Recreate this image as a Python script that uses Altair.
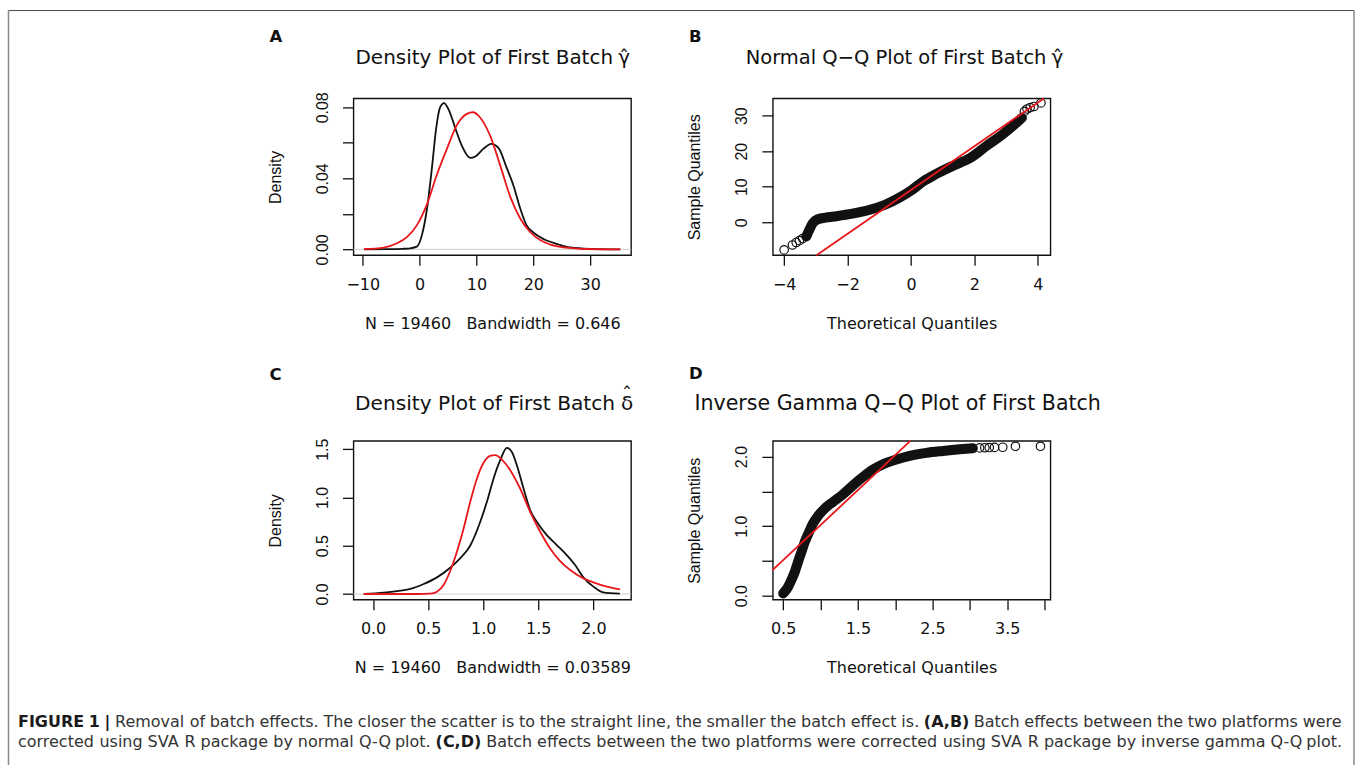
import altair as alt
import pandas as pd

# ---------------- values ----------------
# Panel A: density of first-batch gamma-hat (black) and fitted normal (red)
a_kde_x = [-9.8, -6.0, -3.0, -1.6, -0.5, 0.4, 1.3, 2.2, 2.9, 3.6, 4.3, 5.1, 6.3, 7.4, 8.9,
           9.8, 11.2, 12.6, 13.9, 15.3, 16.5, 17.7, 18.8, 20.0, 21.8, 24.1, 26.5, 30.0, 35.3]
a_kde_y = [0.0, 0.0001, 0.0003, 0.0006, 0.0015, 0.008, 0.023, 0.047, 0.068, 0.080, 0.0824,
           0.0787, 0.068, 0.0585, 0.0515, 0.0523, 0.0566, 0.0594, 0.057, 0.046, 0.036, 0.023,
           0.0136, 0.0095, 0.0058, 0.0031, 0.0011, 0.0003, 0.0]
a_norm_x = [-9.8, -6.3, -4.0, -2.2, -0.5, 1.3, 3.0, 4.8, 6.5, 8.3, 9.4, 10.6, 12.4, 14.2,
            15.9, 17.7, 19.4, 21.2, 22.9, 25.8, 28.8, 35.3]
a_norm_y = [0.0001, 0.001, 0.0034, 0.007, 0.0135, 0.0255, 0.0417, 0.0566, 0.0697, 0.0763,
            0.0772, 0.0744, 0.064, 0.047, 0.030, 0.0174, 0.0099, 0.0052, 0.0028, 0.0009,
            0.0002, 0.0]

# Panel B: normal Q-Q plot (dense band + sparse tail points + reference line)
b_band_x = [-3.30, -3.20, -3.10, -2.95, -2.70, -2.35, -1.85, -1.30, -0.80, -0.35, 0.0,
            0.40, 0.80, 1.30, 1.85, 2.40, 2.90, 3.30, 3.50]
b_band_y = [-4.0, -2.0, -0.3, 0.8, 1.3, 1.7, 2.4, 3.5, 5.0, 7.0, 8.9, 11.6, 13.6, 15.8,
            18.0, 21.6, 24.8, 27.8, 29.4]
b_tail_x = [-4.0, -3.74, -3.62, -3.52, -3.42, 3.58, 3.66, 3.76, 3.88, 4.10]
b_tail_y = [-7.8, -6.4, -5.7, -5.2, -4.6, 31.2, 31.9, 32.3, 32.6, 33.6]
b_line_x = [-2.98, 4.19]
b_line_y = [-9.28, 34.87]

# Panel C: density of first-batch delta-hat (black) and inverse gamma (red)
c_kde_x = [-0.085, 0.097, 0.248, 0.338, 0.459, 0.58, 0.70, 0.79, 0.88, 0.973, 1.033,
           1.094, 1.154, 1.215, 1.26, 1.305, 1.366, 1.426, 1.486, 1.577, 1.668, 1.758,
           1.834, 1.909, 2.0, 2.09, 2.24]
c_kde_y = [0.0, 0.014, 0.034, 0.052, 0.103, 0.172, 0.272, 0.369, 0.497, 0.748, 0.955,
           1.197, 1.386, 1.514, 1.472, 1.334, 1.093, 0.869, 0.748, 0.61, 0.507, 0.403,
           0.30, 0.172, 0.076, 0.017, 0.003]
c_ig_x = [-0.085, 0.399, 0.52, 0.58, 0.64, 0.70, 0.761, 0.822, 0.882, 0.943, 1.003,
          1.063, 1.109, 1.169, 1.245, 1.335, 1.426, 1.517, 1.607, 1.698, 1.789, 1.909,
          2.0, 2.121, 2.242]
c_ig_y = [0.0, 0.0, 0.003, 0.024, 0.093, 0.238, 0.438, 0.679, 0.955, 1.197, 1.359,
          1.431, 1.438, 1.393, 1.283, 1.093, 0.852, 0.645, 0.472, 0.341, 0.248, 0.162,
          0.121, 0.076, 0.048]

# Panel D: inverse gamma Q-Q plot
d_band_x = [0.50, 0.52, 0.567, 0.61, 0.656, 0.70, 0.745, 0.79, 0.848, 0.90, 0.968, 1.057,
            1.169, 1.302, 1.436, 1.57, 1.704, 1.837, 2.016, 2.194, 2.417, 2.64, 2.863, 3.04]
d_band_y = [0.033, 0.057, 0.13, 0.225, 0.344, 0.49, 0.63, 0.775, 0.92, 1.04, 1.148, 1.254,
            1.349, 1.459, 1.589, 1.708, 1.813, 1.89, 1.957, 2.01, 2.053, 2.081, 2.105, 2.12]
d_tail_x = [3.13, 3.20, 3.26, 3.33, 3.44, 3.61, 3.945]
d_tail_y = [2.124, 2.127, 2.13, 2.132, 2.134, 2.148, 2.148]
d_line_x = [0.357, 2.203]
d_line_y = [0.368, 2.225]

# Axis ticks / labels
a_xticks, a_xshown = [-10, 0, 10, 20, 30], [-10, 0, 10, 20, 30]
a_yticks, a_yshown = [0.0, 0.02, 0.04, 0.06, 0.08], [0.0, 0.04, 0.08]
b_xticks, b_xshown = [-4, -2, 0, 2, 4], [-4, -2, 0, 2, 4]
b_yticks, b_yshown = [0, 10, 20, 30], [0, 10, 20, 30]
c_xticks, c_xshown = [0.0, 0.5, 1.0, 1.5, 2.0], [0.0, 0.5, 1.0, 1.5, 2.0]
c_yticks, c_yshown = [0.0, 0.5, 1.0, 1.5], [0.0, 0.5, 1.0, 1.5]
d_xticks, d_xshown = [0.5, 1.0, 1.5, 2.0, 2.5, 3.0, 3.5, 4.0], [0.5, 1.5, 2.5, 3.5]
d_yticks, d_yshown = [0.0, 0.5, 1.0, 1.5, 2.0], [0.0, 1.0, 2.0]

titles = ["Density Plot of First Batch", "Normal Q\u2212Q Plot of First Batch",
          "Density Plot of First Batch", "Inverse Gamma Q\u2212Q Plot of First Batch"]
title_symbols = ["\u03b3", "\u03b3", "\u03b4", ""]
letters = ["A", "B", "C", "D"]
NB3 = "\u00a0\u00a0\u00a0"
x_titles = ["N = 19460" + NB3 + "Bandwidth = 0.646", "Theoretical Quantiles",
            "N = 19460" + NB3 + "Bandwidth = 0.03589", "Theoretical Quantiles"]
y_titles = ["Density", "Sample Quantiles", "Density", "Sample Quantiles"]

caption_l1 = [("FIGURE 1 |", True),
              ("Removal of batch effects. The closer the scatter is to the straight line, the smaller the batch effect is.", False),
              ("(A,B)", True),
              ("Batch effects between the two platforms were", False)]
caption_l2 = [("corrected using SVA R package by normal Q-Q plot.", False),
              ("(C,D)", True),
              ("Batch effects between the two platforms were corrected using SVA R package by inverse gamma Q-Q plot.", False)]

# ---------------- styling ----------------
BLACK = "#111111"
RED = "#e8161b"
FONT_H = "DejaVu Sans"       # horizontal text (the figure is stretched horizontally)
FONT_V = "Liberation Sans"   # rotated text
W = 278
H_TOP, H_BOT = 157, 159
CAP_SIZE = 16

# approximate DejaVu Sans advance widths (em) used to justify the caption words
DV = dict(zip(" .,-()|ABCDEFGHIJKLMNOPQRSTUVWXYZabcdefghijklmnopqrstuvwxyz0123456789",
              [.318, .318, .318, .361, .390, .390, .337,
               .684, .686, .698, .770, .632, .575, .775, .752, .295, .295, .656, .557, .863,
               .748, .787, .603, .787, .695, .635, .611, .732, .684, .989, .685, .611, .685,
               .613, .635, .550, .635, .615, .352, .635, .634, .278, .278, .579, .278, .974,
               .634, .612, .635, .635, .411, .521, .392, .634, .592, .818, .592, .592, .525]
              + [.636] * 10))
DVB = dict(zip(" .,()|ABCDEFGIRU0123456789",
               [.348, .380, .380, .457, .457, .366,
                .774, .762, .734, .830, .683, .683, .821, .372, .770, .812] + [.696] * 10))


def text_w(s, bold, size):
    tbl = DVB if bold else DV
    return sum(tbl.get(ch, 0.6) for ch in s) * size


def justify(segments, x0, x1, y):
    words = []
    for txt, bold in segments:
        for wd in txt.split(" "):
            words.append((wd, bold))
    widths = [text_w(wd, b, CAP_SIZE) for wd, b in words]
    gap = (x1 - x0 - sum(widths)) / (len(words) - 1)
    rows, x = [], x0
    for (wd, b), wdt in zip(words, widths):
        rows.append({"t": wd, "bold": b, "px": x, "py": y})
        x += wdt + gap
    return rows


def df(x, y):
    return pd.DataFrame({"x": x, "y": y})


def shown_expr(shown):
    arr = "[" + ",".join(repr(float(v)) for v in shown) + "]"
    return f"indexof({arr}, datum.value) >= 0 ? datum.label : ''"


def text_layer(txt, x, y, font=FONT_H, size=16, weight="normal", align="left", color=BLACK):
    return alt.Chart(pd.DataFrame({"t": [txt]})).mark_text(
        font=font, fontSize=size, fontWeight=weight, align=align, baseline="alphabetic",
        color=color
    ).encode(text="t:N", x=alt.value(x), y=alt.value(y))


def panel(i, h, xdom, ydom, xticks, xshown, xfmt, yticks, yshown, yfmt,
          lines=(), bands=(), tails=(), zero=False, title_y=-33, letter_y=-55,
          title_size=20, title_x=None, sym_x=None, hat_dy=0, extras=()):
    x_enc = alt.X("x:Q", scale=alt.Scale(domain=xdom, nice=False, zero=False),
                  axis=alt.Axis(values=xticks, format=xfmt, labelExpr=shown_expr(xshown),
                                tickSize=10, tickWidth=1.3, tickColor=BLACK, domain=False,
                                grid=False, labelFont=FONT_H, labelFontSize=16,
                                labelColor=BLACK, labelPadding=11, labelBaseline="top",
                                labelFlush=False, labelOverlap=False,
                                title=x_titles[i], titleFont=FONT_H, titleFontSize=16,
                                titleFontWeight="normal", titleColor=BLACK,
                                titleX=W / 2, titleY=73, titleAlign="center",
                                titleBaseline="alphabetic", titleAngle=0))
    y_enc = alt.Y("y:Q", scale=alt.Scale(domain=ydom, nice=False, zero=False),
                  axis=alt.Axis(values=yticks, format=yfmt, labelExpr=shown_expr(yshown),
                                tickSize=11, tickWidth=1.3, tickColor=BLACK, domain=False,
                                grid=False, labelFont=FONT_V, labelFontSize=16,
                                labelColor=BLACK, labelAngle=270, labelAlign="center",
                                labelBaseline="alphabetic", labelPadding=15.5,
                                labelFlush=False, labelOverlap=False,
                                title=y_titles[i], titleFont=FONT_V, titleFontSize=16,
                                titleFontWeight="normal", titleColor=BLACK,
                                titleX=-73, titleY=h / 2, titleAlign="center",
                                titleBaseline="alphabetic", titleAngle=270))
    layers = []
    if zero:
        layers.append(alt.Chart(pd.DataFrame({"x": [xdom[0]], "y": [0.0]})).mark_rule(
            color="#cfcfcf", strokeWidth=1).encode(y=y_enc, x=alt.value(0), x2=alt.value(W)))
    for (xs, ys) in bands:
        layers.append(alt.Chart(df(xs, ys)).mark_line(
            color=BLACK, strokeWidth=10, strokeCap="round", strokeJoin="round",
            interpolate="monotone").encode(x=x_enc, y=y_enc))
    for (xs, ys) in tails:
        layers.append(alt.Chart(df(xs, ys)).mark_point(
            shape="circle", filled=False, size=72, strokeWidth=1.2, color=BLACK,
            opacity=1).encode(x=x_enc, y=y_enc))
    for (xs, ys, col, interp) in lines:
        layers.append(alt.Chart(df(xs, ys)).mark_line(
            color=col, strokeWidth=1.8, interpolate=interp).encode(x=x_enc, y=y_enc))
    if title_symbols[i]:
        layers.append(text_layer(titles[i], title_x, title_y, size=title_size, align="right"))
        layers.append(text_layer(title_symbols[i], sym_x, title_y, size=20, align="center"))
        layers.append(text_layer("\u02c6", sym_x, title_y + hat_dy, size=20, align="center"))
    else:
        layers.append(text_layer(titles[i], title_x, title_y, size=title_size, align="center"))
    layers.append(text_layer(letters[i], -84, letter_y, size=16.5, weight="bold"))
    layers.extend(extras)
    return alt.layer(*layers).properties(width=W, height=h)


# Frame around the whole figure (drawn in panel A, whose plot origin is at 353, 96)
frame = [
    alt.Chart(pd.DataFrame({"a": [0]})).mark_rule(color="#4a4a4a", strokeWidth=1).encode(
        x=alt.value(-345.5), x2=alt.value(1002), y=alt.value(-88)),
    alt.Chart(pd.DataFrame({"a": [0]})).mark_rule(color="#8a8a8a", strokeWidth=1.5).encode(
        x=alt.value(-345.5), y=alt.value(-88), y2=alt.value(669)),
    alt.Chart(pd.DataFrame({"a": [0]})).mark_rule(color="#8a8a8a", strokeWidth=1.5).encode(
        x=alt.value(1002), y=alt.value(-88), y2=alt.value(669)),
]

# Caption (drawn in panel C, whose plot origin is at 353, 439), justified word by word
CX, CY = 353, 439
cap_rows = justify(caption_l1, 17 - CX, 1343 - CX, 726 - CY) + \
    justify(caption_l2, 17 - CX, 1343 - CX, 746 - CY)
cap_df = pd.DataFrame(cap_rows)
cap = []
for is_bold, col in [(False, "#333333"), (True, "#1a1a1a")]:
    cap.append(alt.Chart(cap_df[cap_df["bold"] == is_bold]).mark_text(
        font=FONT_H, fontSize=CAP_SIZE, fontWeight="bold" if is_bold else "normal",
        align="left", baseline="alphabetic", color=col
    ).encode(x=alt.X("px:Q", scale=None), y=alt.Y("py:Q", scale=None), text="t:N"))

pA = panel(0, H_TOP, [-11.64, 37.2], [-0.0033, 0.085], a_xticks, a_xshown, "d",
           a_yticks, a_yshown, ".2f",
           lines=[(a_kde_x, a_kde_y, BLACK, "monotone"), (a_norm_x, a_norm_y, RED, "monotone")],
           zero=True, title_y=-34, letter_y=-57, title_size=20, title_x=260, sym_x=271,
           hat_dy=0, extras=frame)
pB = panel(1, H_TOP, [-4.356, 4.40], [-9.28, 34.87], b_xticks, b_xshown, "d",
           b_yticks, b_yshown, "d",
           bands=[(b_band_x, b_band_y)], tails=[(b_tail_x, b_tail_y)],
           lines=[(b_line_x, b_line_y, RED, "linear")], title_y=-34, letter_y=-57,
           title_size=19.5, title_x=274, sym_x=285, hat_dy=0)
pC = panel(2, H_BOT, [-0.178, 2.342], [-0.059, 1.586], c_xticks, c_xshown, ".1f",
           c_yticks, c_yshown, ".1f",
           lines=[(c_kde_x, c_kde_y, BLACK, "monotone"), (c_ig_x, c_ig_y, RED, "monotone")],
           zero=True, title_y=-31, letter_y=-61, title_size=20.2, title_x=262, sym_x=274,
           hat_dy=-9, extras=cap)
pD = panel(3, H_BOT, [0.362, 4.079], [-0.057, 2.225], d_xticks, d_xshown, ".1f",
           d_yticks, d_yshown, ".1f",
           bands=[(d_band_x, d_band_y)], tails=[(d_tail_x, d_tail_y)],
           lines=[(d_line_x, d_line_y, RED, "linear")], title_y=-31, letter_y=-62,
           title_size=20.6, title_x=125)

chart = alt.concat(pA, pB, pC, pD, columns=2, spacing={"row": 186, "column": 142},
                   bounds="flush").properties(
    padding={"left": 7, "top": 8, "right": 2, "bottom": 0},
    background="white",
).configure_view(stroke=BLACK, strokeWidth=1.4)

chart.save("out.html", embed_options={"renderer": "svg", "actions": False})
